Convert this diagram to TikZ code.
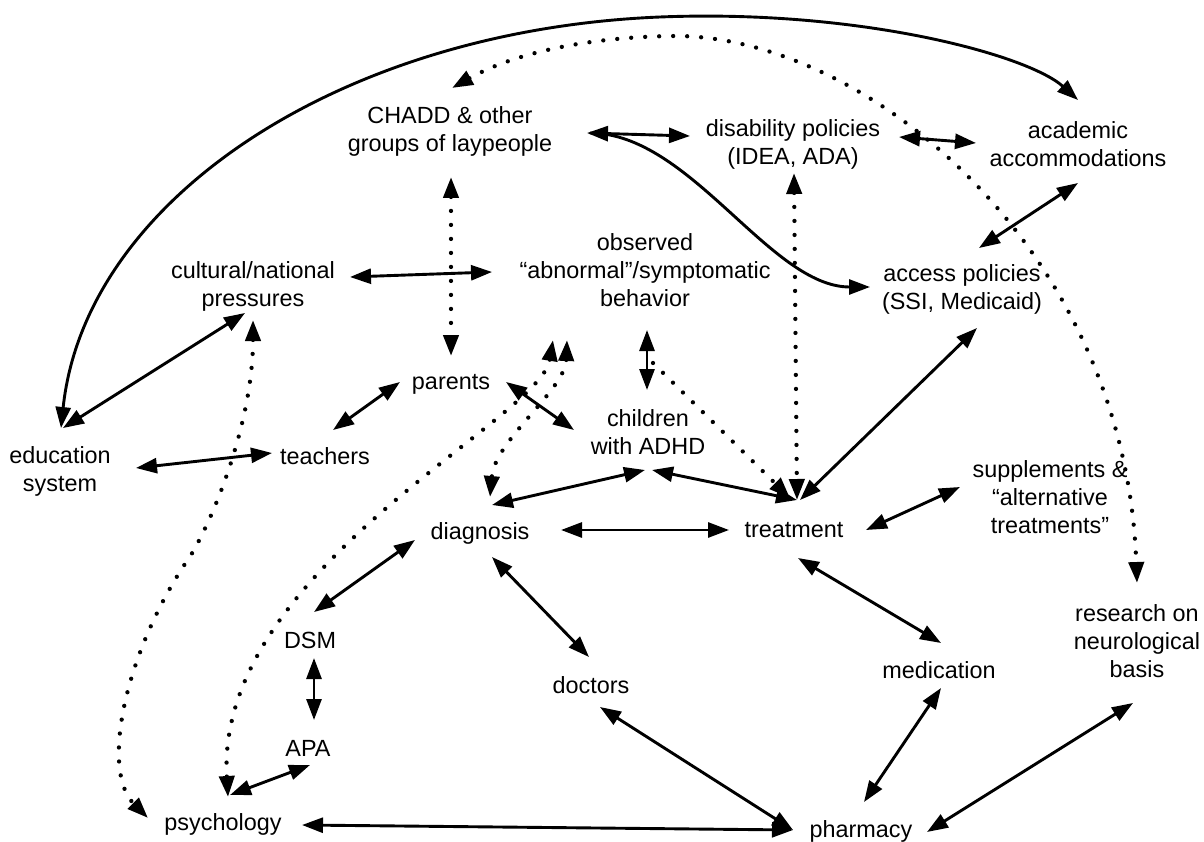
\documentclass[tikz,border=0pt]{standalone}
\usepackage{fontspec}
\setmainfont{Liberation Sans}
\usetikzlibrary{positioning}
\usetikzlibrary{calc,arrows.meta}

\tikzset{
  >={Triangle[length=21pt,width=15pt]},
  lbl/.style={align=center, inner sep=0pt, font=\fontsize{23.4}{28}\selectfont},
  link/.style={line width=2.9pt, <->},
  hint/.style={line width=4.3pt, line cap=round, dash pattern=on 0pt off 14pt, <->},
}

\begin{document}
\begin{tikzpicture}[x=1pt, y=-1pt]
      \useasboundingbox (0,0) rectangle (1204,842);
      \node(chadd) [lbl] at (450,131) {CHADD \& other\\groups of laypeople};
      \node(dis) [lbl] at (793,144) {disability policies\\(IDEA, ADA)};
      \node(acad) [lbl] at (1078,144) {academic\\accommodations};
      \node(obs) [lbl] at (645,270) {observed\\“abnormal”/symptomatic\\behavior};
      \node(cult) [lbl] at (253,286) {cultural/national\\pressures};
      \node(acc) [lbl] at (962,289) {access policies\\(SSI, Medicaid)};
      \node(par) [lbl] at (451,384) {parents};
      \node(tea) [lbl] at (325,456) {teachers};
      \node(edu) [lbl] at (60,471) {education\\system};
      \node(chi) [lbl] at (648,432) {children\\with ADHD};
      \node(sup) [lbl] at (1050,497) {supplements \&\\“alternative\\treatments”};
      \node(diag) [lbl] at (480,533) {diagnosis};
      \node(treat) [lbl] at (794,530) {treatment};
      \node(dsm) [lbl] at (310,640) {DSM};
      \node(doc) [lbl] at (591,685) {doctors};
      \node(med) [lbl] at (939,670) {medication};
      \node(res) [lbl] at (1137,641) {research on\\neurological\\basis};
      \node(apa) [lbl] at (308,748) {APA};
      \node(psy) [lbl] at (223,824) {psychology};
      \node(pha) [lbl] at (861,831) {pharmacy};

      % solid links
      \draw[link] ($(edu)+(1,-43)$) .. controls (85,200) and (340,30) .. (660,17)
            .. controls (860,9) and (1028,55) .. ($(acad)+(0,-44)$);
      \draw[link] ($(chadd)+(137,2)$) -- ($(dis)+(-103,-8)$);
      \draw[link, ->] ($(chadd)+(140,2)$) .. controls (690,133) and (770,287) .. ($(acc)+(-92,-2)$);
      \draw[link] ($(dis)+(106,-7)$) -- ($(acad)+(-102,-1)$);
      \draw[link] ($(acad)+(0,39)$) -- ($(acc)+(17,-41)$);
      \draw[link] ($(cult)+(97,-9)$) -- ($(obs)+(-153,2)$);
      \draw[link] ($(edu)+(3,-43)$) -- ($(cult)+(-8,27)$);
      \draw[link] ($(edu)+(76,-3)$) -- ($(tea)+(-53,-3)$);
      \draw[link] ($(tea)+(8,-26)$) -- ($(par)+(-51,-2)$);
      \draw[link] ($(par)+(55,-2)$) -- ($(chi)+(-74,-2)$);
      \draw[link] ($(obs)+(2,60)$) -- ($(chi)+(-1,-42)$);
      \draw[link] ($(diag)+(12,-28)$) -- ($(chi)+(-3,38)$);
      \draw[link] ($(chi)+(4,38)$) -- ($(treat)+(3,-30)$);
      \draw[link] ($(diag)+(81,-3)$) -- ($(treat)+(-65,0)$);
      \draw[link] ($(treat)+(6,-30)$) -- ($(acc)+(15,39)$);
      \draw[link] ($(treat)+(72,0)$) -- ($(sup)+(-90,-10)$);
      \draw[link] ($(diag)+(-65,7)$) -- ($(dsm)+(4,-28)$);
      \draw[link] ($(diag)+(12,24)$) -- ($(doc)+(-2,-28)$);
      \draw[link] ($(dsm)+(4,18)$) -- ($(apa)+(6,-28)$);
      \draw[link] ($(apa)+(2,17)$) -- ($(psy)+(7,-29)$);
      \draw[link] ($(psy)+(79,1)$) -- ($(pha)+(-68,-1)$);
      \draw[link] ($(doc)+(9,22)$) -- ($(pha)+(-68,-1)$);
      \draw[link] ($(treat)+(4,28)$) -- ($(med)+(2,-27)$);
      \draw[link] ($(med)+(2,18)$) -- ($(pha)+(3,-29)$);
      \draw[link] ($(res)+(-4,62)$) -- ($(pha)+(66,1)$);

      % dotted links
      \draw[hint] ($(chadd)+(1,46)$) -- ($(par)+(0,-28)$);
      \draw[hint] ($(dis)+(1,29)$) -- ($(treat)+(3,-30)$);
      \draw[hint] ($(chadd)+(2,-43)$) .. controls (520,50) and (600,36) .. (680,36)
            .. controls (870,40) and (1125,250) .. ($(res)+(0,-58)$);
      \draw[hint] ($(cult)+(0,34)$) .. controls (253,420) and (215,515) .. (191,555)
            .. controls (125,650) and (100,770) .. ($(psy)+(-75,-6)$);
      \draw[hint] ($(obs)+(-92,70)$) .. controls (540,420) and (215,570) .. ($(psy)+(5,-27)$);
      \draw[hint] ($(obs)+(-78,70)$) .. controls (565,390) and (495,440) .. ($(diag)+(10,-36)$);
      \draw[hint, ->] ($(obs)+(8,93)$) -- ($(treat)+(-4,-32)$);
\end{tikzpicture}
\end{document}
